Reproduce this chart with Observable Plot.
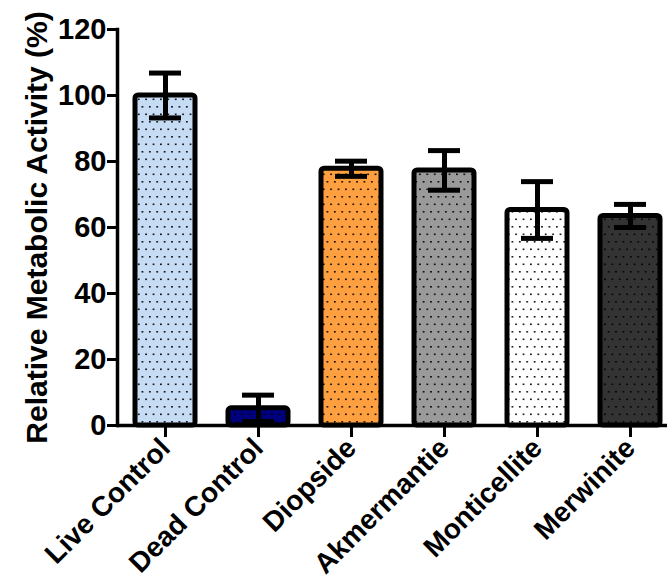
<!DOCTYPE html>
<html>
<head>
<meta charset="utf-8">
<script src="https://cdn.jsdelivr.net/npm/d3@7"></script>
<script src="https://cdn.jsdelivr.net/npm/@observablehq/plot@0.6"></script>
<style>
  html, body { margin: 0; padding: 0; background: #fff; overflow: hidden; }
  #chart svg { display: block; overflow: hidden; }
</style>
</head>
<body>
<div id="chart"></div>
<script>
const categories = ["Live Control", "Dead Control", "Diopside", "Akmermantie", "Monticellite", "Merwinite"];
const means = [100, 5.2, 77.8, 77.3, 65.3, 63.5];
const errors = [6.8, 4.0, 2.3, 6.0, 8.6, 3.5];
const colors = ["#c6dbf4", "#00007f", "#ffa040", "#9a9a9a", "#ffffff", "#333333"];
const yTicks = [0, 20, 40, 60, 80, 100, 120];
const yLabel = "Relative Metabolic Activity (%)";

const data = categories.map((c, i) => ({cat: c, mean: means[i], lo: means[i] - errors[i], hi: means[i] + errors[i]}));

const font = "'Liberation Sans', Arial, Helvetica, sans-serif";

const svg = Plot.plot({
  width: 667,
  height: 585,
  marginLeft: 117,
  marginRight: -10,
  marginTop: 29,
  marginBottom: 160,
  style: {fontFamily: font, fontWeight: "bold", color: "#000", background: "#fff", overflow: "hidden"},
  x: {domain: categories, paddingInner: 0.36, paddingOuter: 0.18, align: 0.5},
  y: {domain: [0, 120]},
  color: {type: "ordinal", domain: categories, range: colors},
  marks: [
    Plot.barY(data, {x: "cat", y: "mean", fill: "cat", rx: 3}),
    Plot.barY(data, {x: "cat", y: "mean", fill: "url(#dots)", rx: 3}),
    Plot.barY(data, {x: "cat", y: "mean", fill: "none", stroke: "#000", strokeWidth: 5, rx: 3}),
    Plot.ruleX(data, {x: "cat", y1: "lo", y2: "hi", stroke: "#000", strokeWidth: 5}),
    Plot.tickY(data, {x: "cat", y: "hi", stroke: "#000", strokeWidth: 5, insetLeft: 14, insetRight: 14}),
    Plot.tickY(data, {x: "cat", y: "lo", stroke: "#000", strokeWidth: 5, insetLeft: 14, insetRight: 14}),
    Plot.ruleY([0], {stroke: "#000", strokeWidth: 3.5}),
    Plot.frame({anchor: "left", stroke: "#000", strokeWidth: 3.5}),
    Plot.axisY({ticks: yTicks, tickSize: 10, tickPadding: 1, tickFormat: d => d, fontSize: 29, strokeWidth: 3,
      label: yLabel, labelAnchor: "center", labelArrow: "none", labelOffset: 92}),
    Plot.axisX({tickSize: 10, tickRotate: -45, tickPadding: 6, fontSize: 28, strokeWidth: 3, label: null, dx: 0, dy: 2})
  ]
});

// dot pattern definition
const ns = "http://www.w3.org/2000/svg";
const defs = document.createElementNS(ns, "defs");
const pat = document.createElementNS(ns, "pattern");
pat.setAttribute("id", "dots");
pat.setAttribute("patternUnits", "userSpaceOnUse");
pat.setAttribute("width", "7.4");
pat.setAttribute("height", "15");
[[1, 1], [4.7, 8.5]].forEach(([px, py]) => {
  const r = document.createElementNS(ns, "rect");
  r.setAttribute("x", px);
  r.setAttribute("y", py);
  r.setAttribute("width", "1.6");
  r.setAttribute("height", "1.6");
  r.setAttribute("fill", "#000");
  pat.appendChild(r);
});
defs.appendChild(pat);
svg.insertBefore(defs, svg.firstChild);

// make y label larger than tick labels
svg.querySelectorAll("[aria-label='y-axis label'] text, [aria-label='y-axis label']").forEach(el => {
  el.setAttribute("font-size", 30);
});

document.getElementById("chart").appendChild(svg);
</script>
</body>
</html>
